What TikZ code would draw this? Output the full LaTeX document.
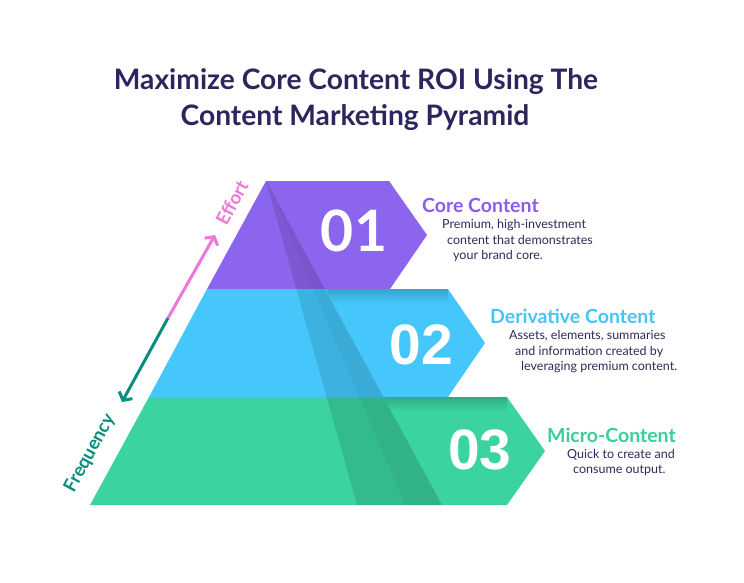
\documentclass[tikz,border=0pt]{standalone}
\usepackage{fontspec}
\setmainfont{Lato}
\newfontfamily\numfont{Liberation Sans}
\usetikzlibrary{arrows.meta,fadings}
\definecolor{pyrpurple}{RGB}{140,101,238}
\definecolor{pyrblue}{RGB}{69,199,251}
\definecolor{pyrgreen}{RGB}{59,211,159}
\definecolor{titlecol}{RGB}{43,39,94}
\definecolor{desccol}{RGB}{46,43,92}
\definecolor{headpurple}{RGB}{139,92,240}
\definecolor{headblue}{RGB}{69,196,248}
\definecolor{headgreen}{RGB}{60,205,152}
\definecolor{effortpink}{RGB}{238,119,217}
\definecolor{freqteal}{RGB}{7,142,126}
\tikzfading[name=fadedown, top color=transparent!0, bottom color=transparent!100]
\begin{document}
\begin{tikzpicture}[x=1pt,y=-1pt,
  titletext/.style={font=\fontsize{28.2}{34}\selectfont\bfseries, text=titlecol, inner sep=0pt, anchor=base},
  numtext/.style={font=\numfont\fontsize{57}{60}\selectfont\bfseries, text=white, inner sep=0pt},
  headtext/.style={font=\fontsize{19.5}{22}\selectfont\bfseries, inner sep=0pt, anchor=base west},
  desctext/.style={font=\fontsize{12.5}{15}\selectfont, text=desccol, inner sep=0pt, anchor=base west},
  axistext/.style={font=\fontsize{18.5}{20}\selectfont\bfseries, inner sep=0pt, rotate=61.5},
  axisarrow/.style={line width=3pt, -{Straight Barb[length=6pt,width=15pt]}},
  shadowfill/.style={fill=black, path fading=fadedown, fill opacity=0.18}
]
\useasboundingbox (0,0) rectangle (744,583);
\fill[white] (0,0) rectangle (744,583);

% title
\node[titletext] (t1) at (356,90) {Maximize Core Content ROI Using The};
\node[titletext] (t2) at (355,126) {Content Marketing Pyramid};

% pyramid bands
\fill[pyrpurple] (266,181) -- (389,181) -- (427,235) -- (390,289) -- (207,289) -- cycle;
\fill[pyrblue] (207,289) -- (448,289) -- (485,343) -- (448,397) -- (149,397) -- cycle;
\fill[pyrgreen] (149,397) -- (507,397) -- (545,451) -- (507,505) -- (90,505) -- cycle;

% fold strip
\fill[black, fill opacity=0.11] (266,181) -- (357,505) -- (442,505) -- cycle;
\fill[black, fill opacity=0.04] (268,183) -- (405,505) -- (442,505) -- cycle;

% shadows beneath upper bands
\fill[shadowfill] (326,289) -- (448,289) -- (448,303) -- (333,303) -- cycle;
\fill[shadowfill] (384,397) -- (507,397) -- (507,411) -- (391,411) -- cycle;

% numbers
\node[numtext, font=\fontsize{57}{60}\selectfont\bfseries] (n1) at (354,231) {01};
\node[numtext] (n2) at (421.5,345) {02};
\node[numtext] (n3) at (480,450) {03};

% headings
\node[headtext, text=headpurple] (h1) at (422,212) {Core Content};
\node[headtext, text=headblue] (h2) at (490,323) {Derivative Content};
\node[headtext, text=headgreen] (h3) at (547,442) {Micro-Content};

% descriptions
\node[desctext] (d11) at (442,228) {Premium, high-investment};
\node[desctext] (d12) at (447,244) {content that demonstrates};
\node[desctext] (d13) at (453,259) {your brand core.};
\node[desctext] (d21) at (509,339) {Assets, elements, summaries};
\node[desctext] (d22) at (515,355) {and information created by};
\node[desctext] (d23) at (521,370) {leveraging premium content.};
\node[desctext] (d31) at (567,458) {Quick to create and};
\node[desctext] (d32) at (573,473) {consume output.};

% effort / frequency axis
\coordinate (amid) at (168,318);
\coordinate (etip) at (215,235);
\coordinate (ftip) at (122,402);
\draw[axisarrow, effortpink] (amid) -- (etip);
\draw[axisarrow, freqteal] (amid) -- (ftip);
\node[axistext, text=effortpink] (eff) at (232,203) {Effort};
\node[axistext, text=freqteal] (freq) at (90,453) {Frequency};
\end{tikzpicture}
\end{document}
